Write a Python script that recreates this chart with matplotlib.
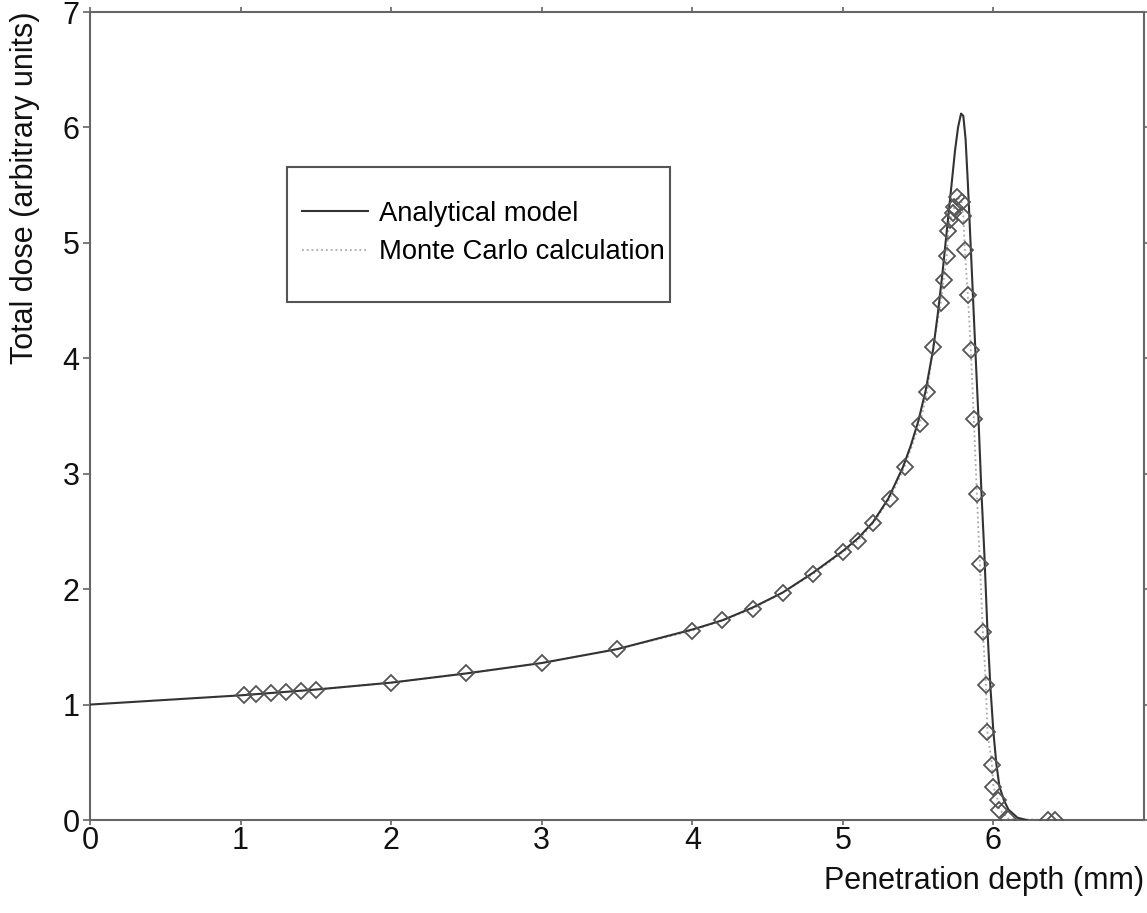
import matplotlib
matplotlib.use("Agg")
import matplotlib.pyplot as plt
from matplotlib.patches import Rectangle

plt.rcParams["font.family"] = ["Liberation Sans", "DejaVu Sans"]

# Analytical model curve (depth in mm, dose in arbitrary units)
analytic_x = [0.0, 0.5, 1.0, 1.5, 2.0, 2.5, 3.0, 3.5, 4.0, 4.2, 4.4, 4.6, 4.8,
              5.0, 5.1, 5.2, 5.3, 5.4, 5.45, 5.5, 5.55, 5.6, 5.63, 5.66, 5.69,
              5.72, 5.745, 5.765, 5.785, 5.80, 5.815, 5.83, 5.855, 5.88, 5.90,
              5.92, 5.94, 5.96, 5.98, 6.00, 6.02, 6.04, 6.07, 6.10, 6.16, 6.22]
analytic_y = [1.00, 1.04, 1.08, 1.13, 1.19, 1.27, 1.36, 1.48, 1.65, 1.73, 1.84,
              1.97, 2.14, 2.33, 2.44, 2.58, 2.78, 3.06, 3.24, 3.45, 3.72, 4.08,
              4.38, 4.72, 5.10, 5.48, 5.80, 6.00, 6.12, 6.10, 5.90, 5.52, 4.80,
              4.07, 3.50, 2.85, 2.30, 1.65, 1.15, 0.76, 0.48, 0.29, 0.17, 0.09,
              0.02, 0.0]

# Monte Carlo points
mc_x = [1.02, 1.10, 1.20, 1.30, 1.40, 1.50, 2.00, 2.50, 3.00, 3.50, 4.00, 4.20,
        4.40, 4.60, 4.80, 5.00, 5.10, 5.20, 5.31, 5.41, 5.51, 5.56, 5.60, 5.65,
        5.67, 5.69, 5.70, 5.71, 5.73, 5.74, 5.76, 5.79, 5.80, 5.81, 5.83, 5.85,
        5.87, 5.89, 5.91, 5.93, 5.95, 5.96, 5.99, 6.00, 6.03, 6.04, 6.10, 6.36,
        6.41]
mc_y = [1.08, 1.09, 1.10, 1.11, 1.12, 1.13, 1.19, 1.27, 1.36, 1.48, 1.64, 1.73,
        1.83, 1.97, 2.13, 2.32, 2.42, 2.57, 2.78, 3.06, 3.43, 3.71, 4.10, 4.48,
        4.68, 4.89, 5.10, 5.20, 5.26, 5.31, 5.40, 5.35, 5.23, 4.94, 4.55, 4.07,
        3.47, 2.82, 2.22, 1.63, 1.17, 0.76, 0.48, 0.29, 0.17, 0.09, 0.01, 0.0,
        0.0]

x_ticks = [0, 1, 2, 3, 4, 5, 6]
y_ticks = [0, 1, 2, 3, 4, 5, 6, 7]

fig = plt.figure(figsize=(11.47, 9.13), dpi=100)
ax = fig.add_axes([90 / 1147, 93 / 913, 1054 / 1147, 808 / 913])

ax.plot(analytic_x, analytic_y, color="#333333", lw=1.5, label="Analytical model", zorder=3)
ax.plot(mc_x, mc_y, color="#aaaaaa", lw=1.3, ls=":", label="Monte Carlo calculation", zorder=2)
ax.plot(mc_x, mc_y, ls="none", marker="D", ms=8, mfc="none", mec="#555555",
        mew=1.3, zorder=4)

ax.set_xlim(0, 7.0)
ax.set_ylim(0, 7)
ax.set_xticks(x_ticks)
ax.set_yticks(y_ticks)

for s in ax.spines.values():
    s.set_color("#666666")
    s.set_linewidth(1.5)

ax.tick_params(axis="both", which="both", direction="out", colors="#666666",
               labelcolor="#111111", labelsize=22, top=True, right=True, width=1.2)
ax.tick_params(axis="x", length=3.5, pad=1)
ax.tick_params(axis="y", length=5, pad=2.5)

ax.set_xlabel("Penetration depth (mm)", fontsize=22, color="#111111", ha="right", va="top")
ax.xaxis.set_label_coords(1.0, -0.057)
ax.set_ylabel("Total dose (arbitrary units)", fontsize=22, color="#111111", loc="top")
ax.yaxis.set_label_coords(-0.0474, 1.0)

# legend box
ax.add_patch(Rectangle((0.187, 0.641), 0.363, 0.167, transform=ax.transAxes,
                       fill=False, edgecolor="#555555", lw=1.5, clip_on=False, zorder=5))
ax.legend(frameon=False, loc="upper left", bbox_to_anchor=(0.201, 0.766),
          borderaxespad=0, borderpad=0, fontsize=19.7, handlelength=2.4,
          handletextpad=0.43, labelspacing=0.45)

fig.savefig("out.png", dpi=100)
